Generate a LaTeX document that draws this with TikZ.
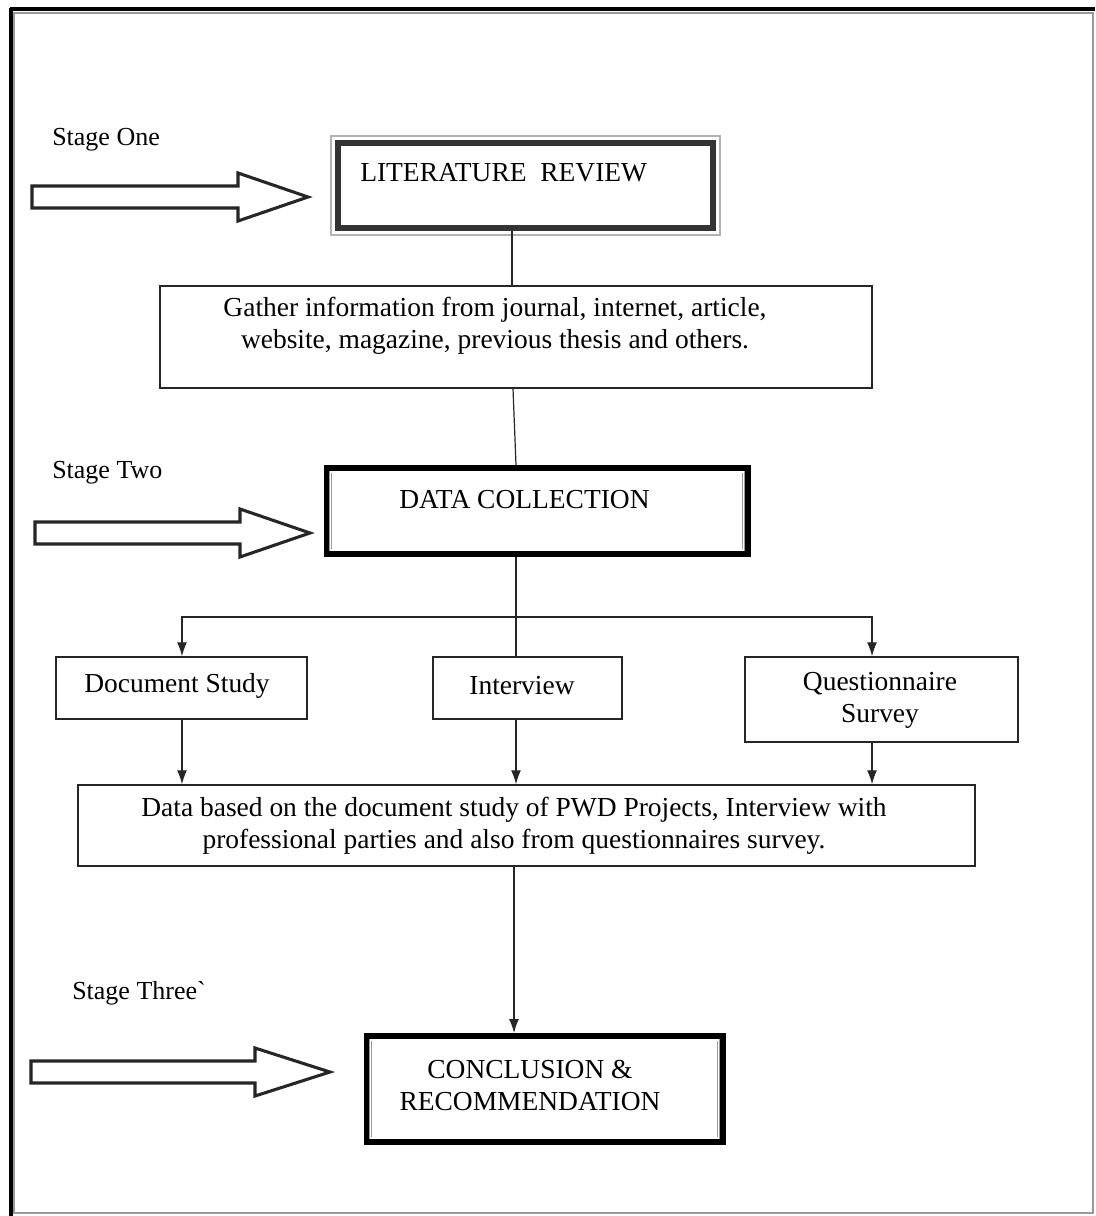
\documentclass[tikz,border=0pt]{standalone}
\usepackage{fontspec}
\setmainfont{Liberation Serif}
\usetikzlibrary{arrows.meta}
\begin{document}
\begin{tikzpicture}[x=0.75pt,y=-0.75pt,
  txt/.style={font=\fontsize{20.6pt}{24pt}\selectfont, inner sep=0pt, align=center},
  stagetxt/.style={font=\fontsize{19.5pt}{24pt}\selectfont, inner sep=0pt},
  plainbox/.style={draw=black!85, line width=1.1pt, inner sep=0pt},
  stagebox/.style={draw=black!80, line width=3.9pt, inner sep=0pt},
  conn/.style={draw=black!85, line width=0.9pt},
  arr/.style={conn, -{Latex[length=10.5pt,width=7.5pt]}},
  blockarrow/.style={draw=black!85, line width=2.3pt, fill=white, line join=miter}
]
% canvas
\useasboundingbox (0,0) rectangle (1095,1216);
\fill[white] (0,0) rectangle (1095,1216);
% outer frame
\draw[gray!80, line width=1.6pt] (14,13) rectangle (1093,1213);
\draw[black, line width=3.2pt] (10,9) -- (1095,9);
\draw[black, line width=3.2pt] (11,8) -- (11,1216);

% stage labels
\node[stagetxt, anchor=west] (s1) at (52,140) {Stage One};
\node[stagetxt, anchor=west] (s2) at (52,473) {Stage Two};
\node[stagetxt, anchor=west] (s3) at (72,993) {Stage Three\textasciigrave};

% block arrows
\draw[blockarrow] (32,186) -- (238,186) -- (238,173) -- (308,197) -- (238,221) -- (238,208) -- (32,208) -- cycle;
\draw[blockarrow] (35,522) -- (240,522) -- (240,509) -- (310,533) -- (240,557) -- (240,544) -- (35,544) -- cycle;
\draw[blockarrow] (31,1061) -- (255,1061) -- (255,1048) -- (330,1072) -- (255,1096) -- (255,1083) -- (31,1083) -- cycle;

% literature review
\node[stagebox, minimum width=281.25pt, minimum height=63.75pt] (lr) at (525.5,185.5) {};
\draw[gray!60, line width=1.5pt] ([shift={(-4,-4)}]lr.north west) rectangle ([shift={(4,4)}]lr.south east);
\node[txt, anchor=west] (lrt) at (360,173) {LITERATURE\ \ REVIEW};

% gather
\node[plainbox, minimum width=534pt, minimum height=76.5pt] (gather) at (516,337) {};
\node[txt] (gathert) at (495,326) {Gather information from journal, internet, article,\\website, magazine, previous thesis and others.};

% data collection
\node[draw=black, line width=4.5pt, inner sep=0pt, minimum width=315.75pt, minimum height=64.5pt] (dc) at (537,511) {};
\draw[gray!80, double, double distance=0.8pt, line width=0.5pt] ([shift={(7,7)}]dc.north west) rectangle ([shift={(-7,-7)}]dc.south east);
\node[txt] (dct) at (524.5,500) {DATA COLLECTION};

% three methods
\node[plainbox, minimum width=188.25pt, minimum height=46.5pt] (doc) at (181.5,688) {};
\node[txt] (doct) at (177,686) {Document Study};
\node[plainbox, minimum width=141.75pt, minimum height=46.5pt] (inter) at (527.5,688) {};
\node[txt] (intert) at (522,686) {Interview};
\node[plainbox, minimum width=204.75pt, minimum height=63.75pt] (quest) at (881.5,699.5) {};
\node[txt] (questt) at (880,700) {Questionnaire\\Survey};

% data based
\node[plainbox, minimum width=672.75pt, minimum height=60.75pt] (data) at (526.5,825.5) {};
\node[txt] (datat) at (514,826) {Data based on the document study of PWD Projects, Interview with\\professional parties and also from questionnaires survey.};

% conclusion
\node[draw=black, line width=4.5pt, inner sep=0pt, minimum width=267pt, minimum height=79.5pt] (conc) at (544.5,1089) {};
\draw[gray!80, double, double distance=0.8pt, line width=0.5pt] ([shift={(7,7)}]conc.north west) rectangle ([shift={(-7,-7)}]conc.south east);
\node[txt] (conct) at (530,1085) {CONCLUSION \&\\RECOMMENDATION};

% connectors
\coordinate (split) at (516,617);
\draw[conn] (512,0 |- lr.south) -- (512,0 |- gather.north);
\draw[conn] (513,0 |- gather.south) -- (516,0 |- dc.north);
\draw[conn] (516,0 |- dc.south) -- (516,0 |- inter.north);
\draw[arr] (split) -| (182,0 |- doc.north);
\draw[arr] (split) -| (872,0 |- quest.north);
\draw[arr] (182,0 |- doc.south) -- (182,0 |- data.north);
\draw[arr] (516,0 |- inter.south) -- (516,0 |- data.north);
\draw[arr] (872,0 |- quest.south) -- (872,0 |- data.north);
\draw[arr] (514,0 |- data.south) -- (514,0 |- conc.north);
\end{tikzpicture}
\end{document}
